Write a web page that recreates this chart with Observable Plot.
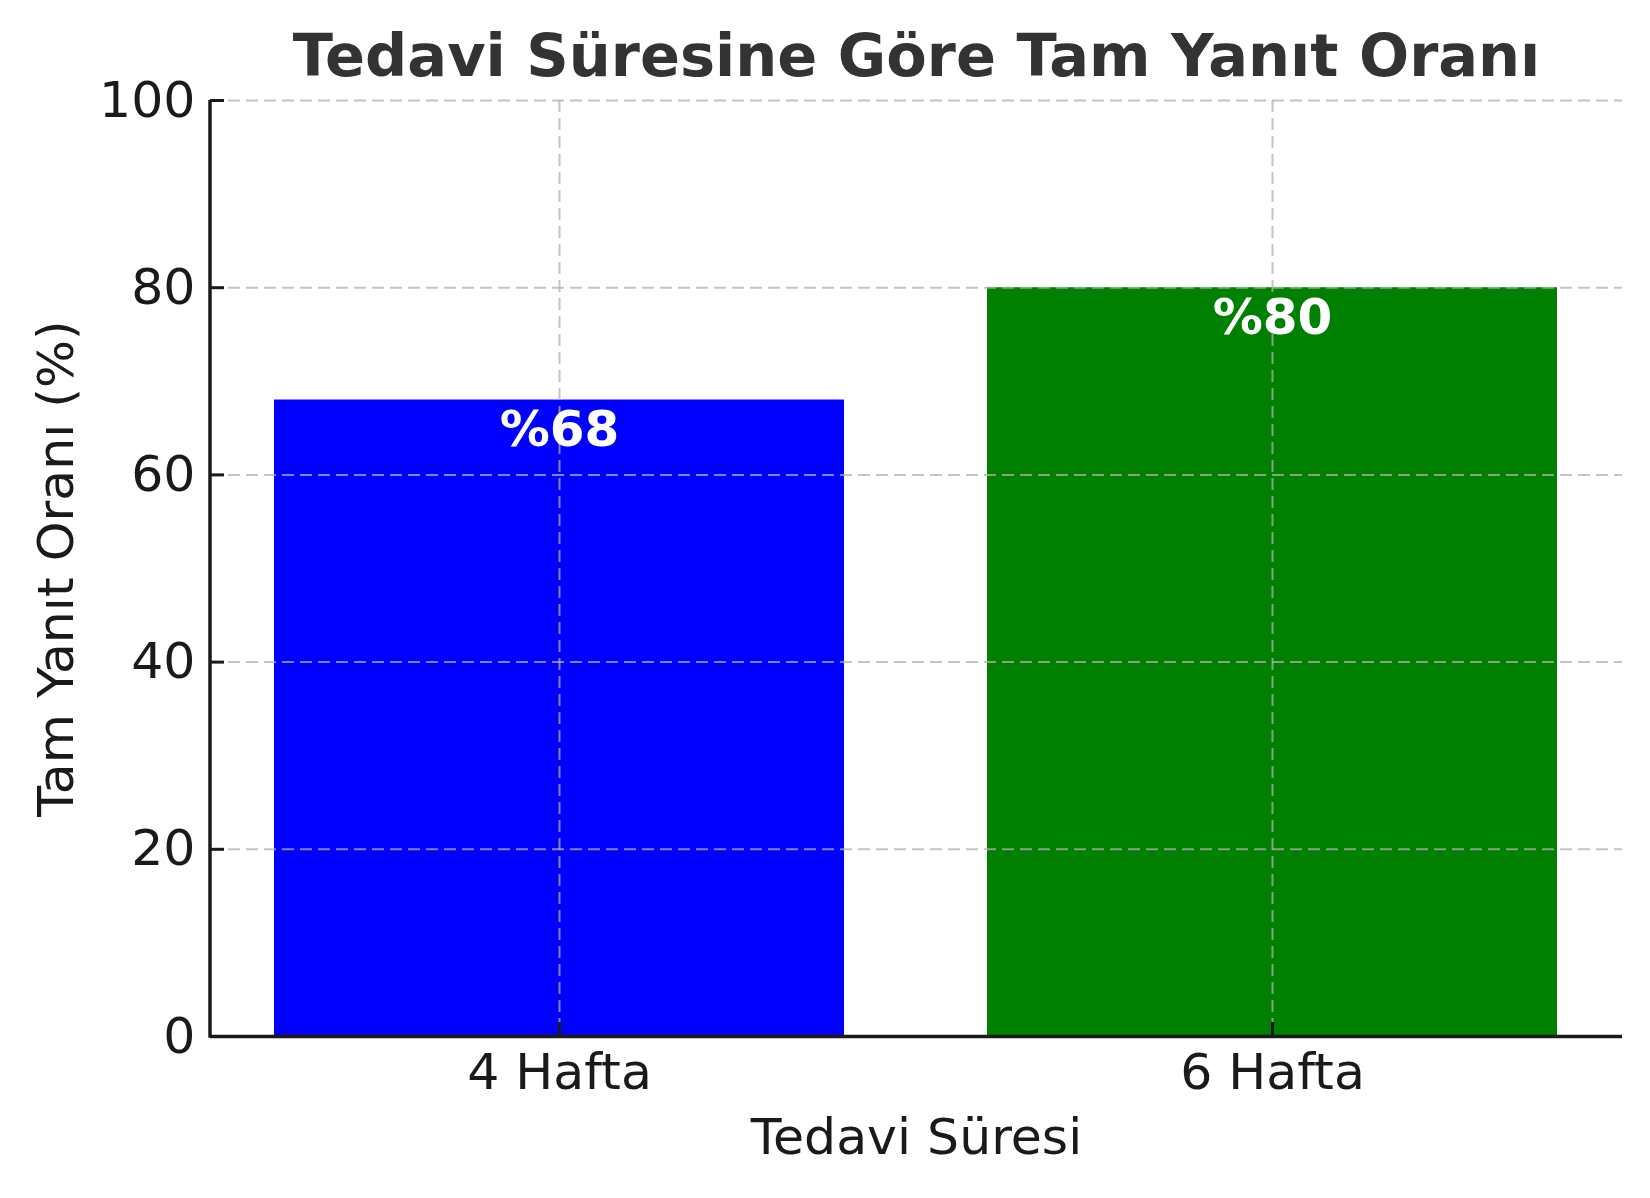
<!DOCTYPE html>
<html>
<head>
<meta charset="utf-8">
<script src="https://cdn.jsdelivr.net/npm/d3@7"></script>
<script src="https://cdn.jsdelivr.net/npm/@observablehq/plot@0.6"></script>
<style>
  html, body { margin: 0; padding: 0; background: #fff; }
  #chart svg { display: block; }
</style>
</head>
<body>
<div id="chart"></div>
<script>
const categories = ["4 Hafta", "6 Hafta"];
const values = [68, 80];
const barColors = ["#0000ff", "#008000"];
const valueLabels = ["%68", "%80"];
const yTicks = [0, 20, 40, 60, 80, 100];
const titleText = "Tedavi Süresine Göre Tam Yanıt Oranı";
const xLabel = "Tedavi Süresi";
const yLabel = "Tam Yanıt Oranı (%)";

const data = categories.map((c, i) => ({cat: c, value: values[i], color: barColors[i], label: valueLabels[i]}));

const W = 1650, H = 1198;
const mL = 210, mR = 28, mT = 100, mB = 162;
const plotW = W - mL - mR, plotH = H - mT - mB;
const font = "DejaVu Sans, sans-serif";
const axisColor = "#1a1a1a";
const fs = 50.5;
const gridStyle = {stroke: "#b0b0b0", strokeOpacity: 0.75, strokeWidth: 2, strokeDasharray: "12,6"};

const leftSpine = (index, scales, values, dims) => {
  const line = document.createElementNS("http://www.w3.org/2000/svg", "line");
  line.setAttribute("x1", dims.marginLeft);
  line.setAttribute("x2", dims.marginLeft);
  line.setAttribute("y1", dims.marginTop);
  line.setAttribute("y2", dims.height - dims.marginBottom + 1.75);
  line.setAttribute("stroke", axisColor);
  line.setAttribute("stroke-width", 3.5);
  return line;
};

const chart = Plot.plot({
  width: W,
  height: H,
  marginLeft: mL,
  marginRight: mR,
  marginTop: mT,
  marginBottom: mB,
  style: {fontFamily: font, color: axisColor, background: "#fff", overflow: "visible"},
  x: {type: "band", domain: categories, paddingInner: 0.2, paddingOuter: 0.09, align: 0.5},
  y: {domain: [0, 100]},
  marks: [
    Plot.barY(data, {x: "cat", y: "value", fill: "color"}),
    Plot.gridY(yTicks, {...gridStyle}),
    Plot.gridX(categories, {...gridStyle}),
    Plot.text(data, {x: "cat", y: "value", text: "label", fill: "white", fontWeight: "bold", fontSize: 50, lineAnchor: "bottom", dy: 46}),
    Plot.tickY(yTicks, {y: d => d, insetRight: plotW - 14, stroke: axisColor, strokeWidth: 3}),
    Plot.tickX(categories, {x: d => d, insetTop: plotH - 14, stroke: axisColor, strokeWidth: 3}),
    Plot.axisY(yTicks, {tickSize: 0, tickPadding: 15, fontSize: fs, label: null, fill: axisColor}),
    Plot.axisX({tickSize: 0, tickPadding: 17, fontSize: fs, label: null, fill: axisColor}),
    Plot.ruleY([0], {stroke: axisColor, strokeWidth: 3.5}),
    leftSpine,
    Plot.text([titleText], {frameAnchor: "top", lineAnchor: "bottom", dy: -25, fontSize: 59, fontWeight: "bold", fill: "#333333"}),
    Plot.text([xLabel], {frameAnchor: "bottom", lineAnchor: "bottom", dy: 117, fontSize: fs, fill: axisColor}),
    Plot.text([yLabel], {frameAnchor: "left", textAnchor: "middle", lineAnchor: "bottom", rotate: -90, dx: -138, fontSize: fs, fill: axisColor})
  ]
});
document.getElementById("chart").appendChild(chart);
</script>
</body>
</html>
